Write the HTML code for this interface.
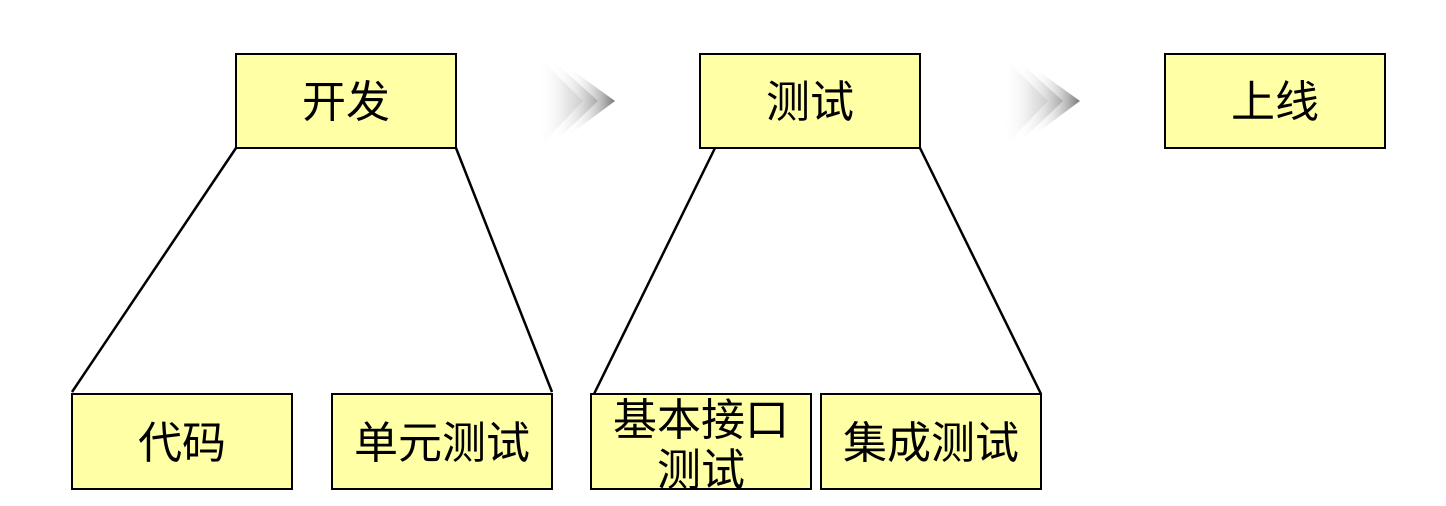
<!DOCTYPE html>
<html><head><meta charset="utf-8"><style>
body{margin:0;width:1446px;height:506px;background:#fff;position:relative;overflow:hidden;font-family:"Liberation Sans","Noto Sans CJK SC",sans-serif}
.b{position:absolute;background:#ffffa6;border:2px solid #000;box-sizing:border-box;display:flex;align-items:center;justify-content:center;text-align:center;font-size:44px;line-height:50px;color:#000;padding-top:4px}
</style></head><body>
<svg width="1446" height="506" style="position:absolute;left:0;top:0">
<defs>
<linearGradient id="g1" x1="0" x2="1"><stop offset="0" stop-color="#fff" stop-opacity="0"/><stop offset="1" stop-color="#c8c8c8"/></linearGradient>
<linearGradient id="g2" x1="0" x2="1"><stop offset="0" stop-color="#fff" stop-opacity="0"/><stop offset="1" stop-color="#aaa"/></linearGradient>
<linearGradient id="g3" x1="0" x2="1"><stop offset="0" stop-color="#fff" stop-opacity="0"/><stop offset="1" stop-color="#777"/></linearGradient>
</defs>
<g id="ch">
<polygon points="537,56 538,56 583,101 538,148 537,148" fill="url(#g1)"/>
<polygon points="552,62 555,62 598,101 555,142 552,142" fill="url(#g2)"/>
<polygon points="568,70 572,70 615,101 572,133 568,133" fill="url(#g3)"/>
</g>
<use href="#ch" x="465"/>
<g stroke="#000" stroke-width="2.5" fill="none">
<line x1="236" y1="148" x2="72" y2="392"/>
<line x1="456" y1="148" x2="552" y2="392"/>
<line x1="715" y1="148" x2="594" y2="394"/>
<line x1="920" y1="148" x2="1041" y2="394"/>
</g>
</svg>
<div class="b" style="left:235px;top:53px;width:222px;height:96px">开发</div>
<div class="b" style="left:699px;top:53px;width:222px;height:96px">测试</div>
<div class="b" style="left:1164px;top:53px;width:222px;height:96px">上线</div>
<div class="b" style="left:71px;top:393px;width:222px;height:97px">代码</div>
<div class="b" style="left:331px;top:393px;width:222px;height:97px">单元测试</div>
<div class="b" style="left:590px;top:393px;width:222px;height:97px;line-height:50px;padding-top:8px">基本接口<br>测试</div>
<div class="b" style="left:820px;top:393px;width:222px;height:97px">集成测试</div>
</body></html>
